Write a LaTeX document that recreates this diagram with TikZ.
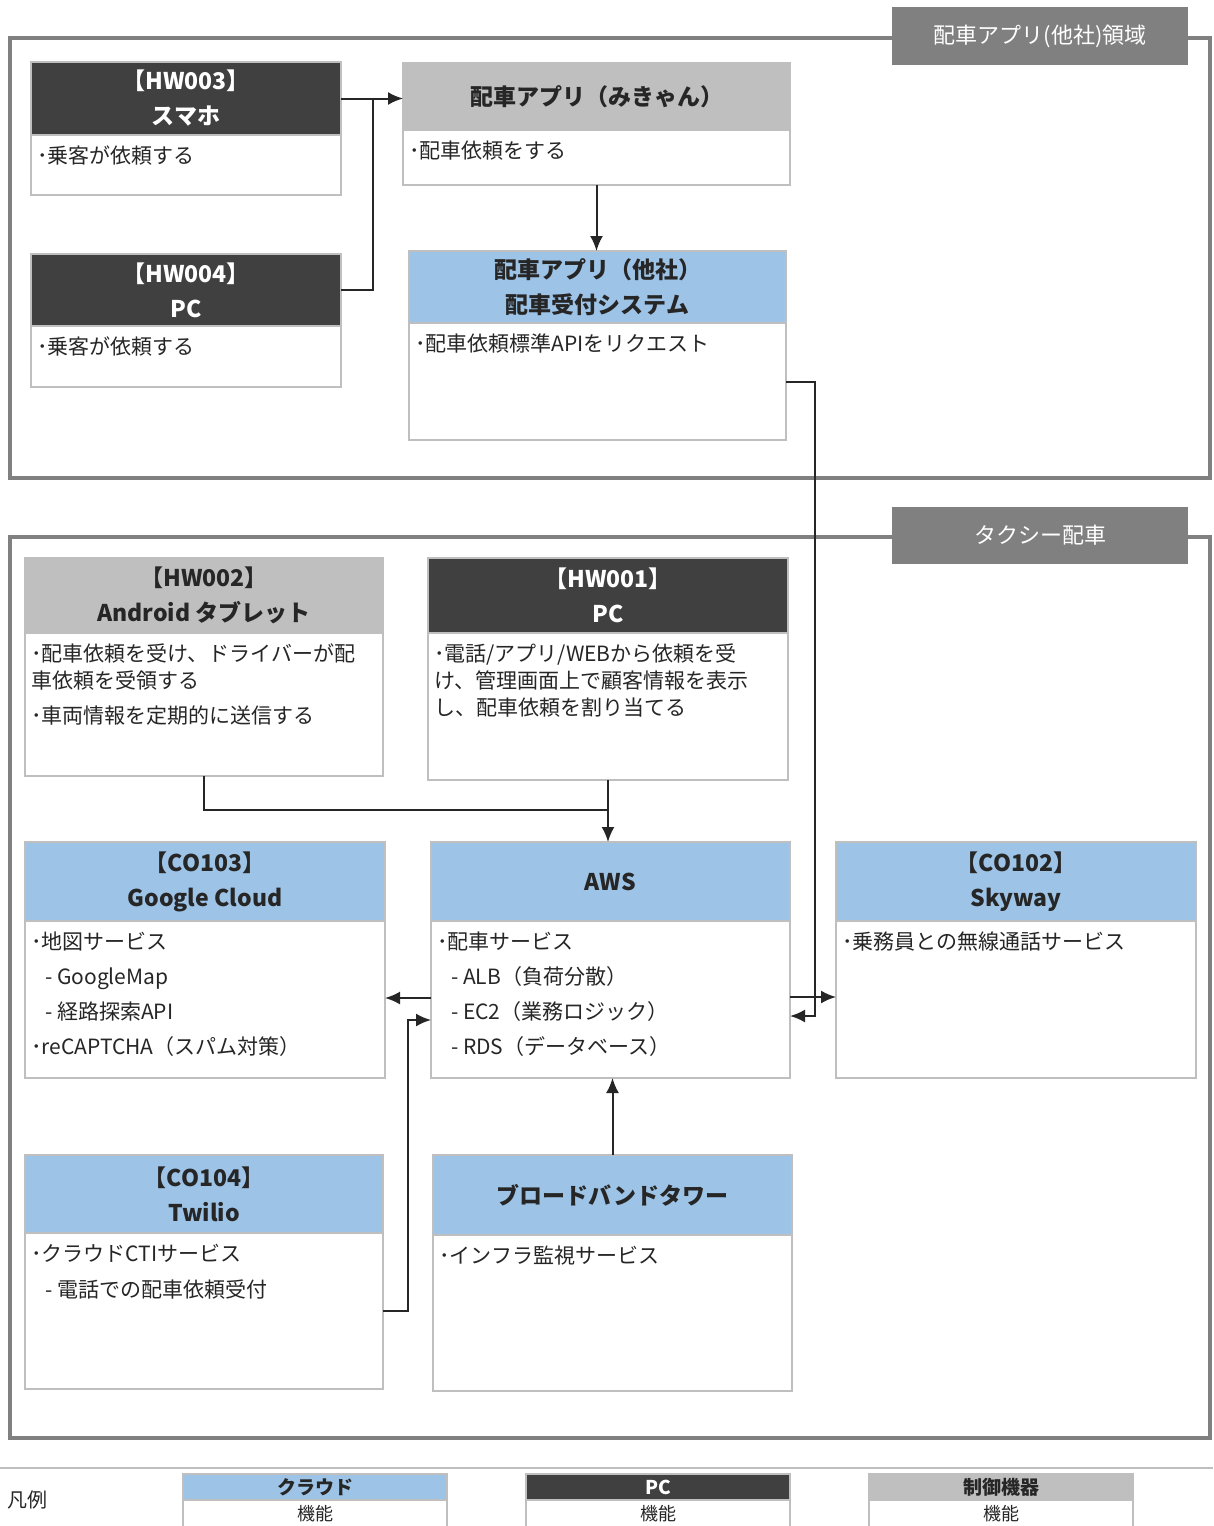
\documentclass[tikz,border=0pt]{standalone}
\usepackage{fontspec}
\setmainfont{Noto Sans CJK JP}
\usetikzlibrary{arrows.meta}
\definecolor{hblue}{HTML}{9DC3E6}
\definecolor{hdark}{HTML}{404040}
\definecolor{hgray}{HTML}{BFBFBF}
\definecolor{bord}{HTML}{BFBFBF}
\definecolor{frgray}{HTML}{808080}
\definecolor{txt}{HTML}{262626}
\newcommand\unitbox[9]{%
  \node[hdr,#7,minimum width={#3-#2},minimum height={#5-#4}] (#1h) at ({(#2+#3)/2},{(#4+#5)/2}) {#8};
  \node[bodybox,minimum width={#3-#2},minimum height={#6-#5}] (#1) at ({(#2+#3)/2},{(#5+#6)/2}) {};
  \node[bodytext] at (#2+6,#5+11) {#9};
}
\begin{document}
\begin{tikzpicture}[x=1pt,y=-1pt,
 hdr/.style={draw=bord,line width=1.2pt,inner sep=0pt,outer sep=0pt,align=center,font=\fontsize{23}{35}\selectfont\bfseries},
 hdrD/.style={fill=hdark,text=white},
 hdrB/.style={fill=hblue,text=txt},
 hdrG/.style={fill=hgray,text=txt},
 bodybox/.style={draw=bord,line width=1.2pt,fill=white,inner sep=0pt,outer sep=0pt},
 bodytext/.style={inner sep=0pt,align=left,text=txt,font=\fontsize{21}{27}\selectfont,anchor=north west},
 conn/.style={draw=txt,line width=2pt},
 arr/.style={conn,-{Latex[length=15pt,width=13pt]}},
 regionframe/.style={draw=frgray,line width=4pt},
 regionlabel/.style={fill=frgray,text=white,inner sep=0pt,font=\fontsize{22}{26}\selectfont},
 legh/.style={draw=bord,line width=1.2pt,inner sep=0pt,outer sep=0pt,minimum width=264pt,minimum height=26pt,font=\fontsize{19}{22}\selectfont\bfseries},
 legb/.style={draw=bord,line width=1.2pt,fill=white,inner sep=0pt,outer sep=0pt,minimum width=264pt,minimum height=46pt},
 legt/.style={inner sep=0pt,text=txt,font=\fontsize{18}{20}\selectfont}
]
\useasboundingbox (0,0) rectangle (1213,1526);
\clip (0,0) rectangle (1213,1526);
\fill[white] (0,0) rectangle (1213,1526);

% region frames
\draw[regionframe] (10,38) rectangle (1210,478);
\node[regionlabel,minimum width=296pt,minimum height=58pt] (reg1) at (1040,36) {配車アプリ(他社)領域};
\draw[regionframe] (10,537) rectangle (1210,1438);
\node[regionlabel,minimum width=296pt,minimum height=57pt] (reg2) at (1040,535.5) {タクシー配車};

% boxes
\unitbox{hw003}{31}{341}{62}{135}{195}{hdrD}{【HW003】\\スマホ}{･乗客が依頼する}
\unitbox{hw004}{31}{341}{254}{326}{387}{hdrD}{【HW004】\\PC}{･乗客が依頼する}
\unitbox{app}{403}{790}{63}{130}{185}{hdrG}{配車アプリ（みきゃん）}{･配車依頼をする}
\unitbox{sys}{409}{786}{251}{323}{440}{hdrB}{配車アプリ（他社）\\配車受付システム}{･配車依頼標準APIをリクエスト}
\unitbox{hw002}{25}{383}{558}{633}{776}{hdrG}{【HW002】\\Android タブレット}{･配車依頼を受け、ドライバーが配\\車依頼を受領する\\[8pt]･車両情報を定期的に送信する}
\unitbox{hw001}{428}{788}{558}{633}{780}{hdrD}{【HW001】\\PC}{･電話/アプリ/WEBから依頼を受\\け、管理画面上で顧客情報を表示\\し、配車依頼を割り当てる}
\unitbox{co103}{25}{385}{842}{921}{1078}{hdrB}{【CO103】\\Google Cloud}{･地図サービス\\[8pt]\hspace*{14pt}- GoogleMap\\[8pt]\hspace*{14pt}- 経路探索API\\[8pt]･reCAPTCHA（スパム対策）}
\unitbox{aws}{431}{790}{842}{921}{1078}{hdrB}{AWS}{･配車サービス\\[8pt]\hspace*{14pt}- ALB（負荷分散）\\[8pt]\hspace*{14pt}- EC2（業務ロジック）\\[8pt]\hspace*{14pt}- RDS（データベース）}
\unitbox{co102}{836}{1196}{842}{921}{1078}{hdrB}{【CO102】\\Skyway}{･乗務員との無線通話サービス}
\unitbox{co104}{25}{383}{1155}{1233}{1389}{hdrB}{【CO104】\\Twilio}{･クラウドCTIサービス\\[9pt]\hspace*{14pt}- 電話での配車依頼受付}
\unitbox{bb}{433}{792}{1155}{1235}{1391}{hdrB}{ブロードバンドタワー}{･インフラ監視サービス}

% connectors
\path (hw003h.east) ++(32,0) coordinate (j1);
\draw[arr] (hw003h.east) -- (apph.west |- hw003h.east);
\draw[conn] (hw004h.east) -| (j1);
\draw[arr] (app.south) -- (app.south |- sysh.north);
\coordinate (c1) at (815,1016);
\draw[arr] (sys.east) -| (c1) -- (aws.east |- c1);
\draw[arr] ([yshift=2.5pt]aws.east) -- ([yshift=2.5pt]co102.west);
\draw[arr] ([yshift=1.5pt]aws.west) -- ([yshift=1.5pt]co103.east);
\coordinate (c3) at (408,1020);
\draw[arr] (co104.east) -| (c3) -- (aws.west |- c3);
\coordinate (c4) at (0,810);
\draw[conn] (hw002.south) |- (hw001.south |- c4);
\draw[arr] (hw001.south) -- (hw001.south |- awsh.north);
\draw[arr] (bbh.north) -- (bbh.north |- aws.south);

% legend
\draw[draw=bord,line width=1.5pt] (0,1468) -- (1213,1468);
\node[legt,text=txt,font=\fontsize{20}{22}\selectfont] (legtitle) at (28,1500) {凡例};
\node[legh,fill=hblue,text=txt] (leg1h) at (315,1487) {クラウド};
\node[legb,anchor=north] (leg1) at (leg1h.south) {};
\node[legt] at (315,1514) {機能};
\node[legh,fill=hdark,text=white] (leg2h) at (658,1487) {PC};
\node[legb,anchor=north] (leg2) at (leg2h.south) {};
\node[legt] at (658,1514) {機能};
\node[legh,fill=hgray,text=txt] (leg3h) at (1001,1487) {制御機器};
\node[legb,anchor=north] (leg3) at (leg3h.south) {};
\node[legt] at (1001,1514) {機能};
\end{tikzpicture}
\end{document}
